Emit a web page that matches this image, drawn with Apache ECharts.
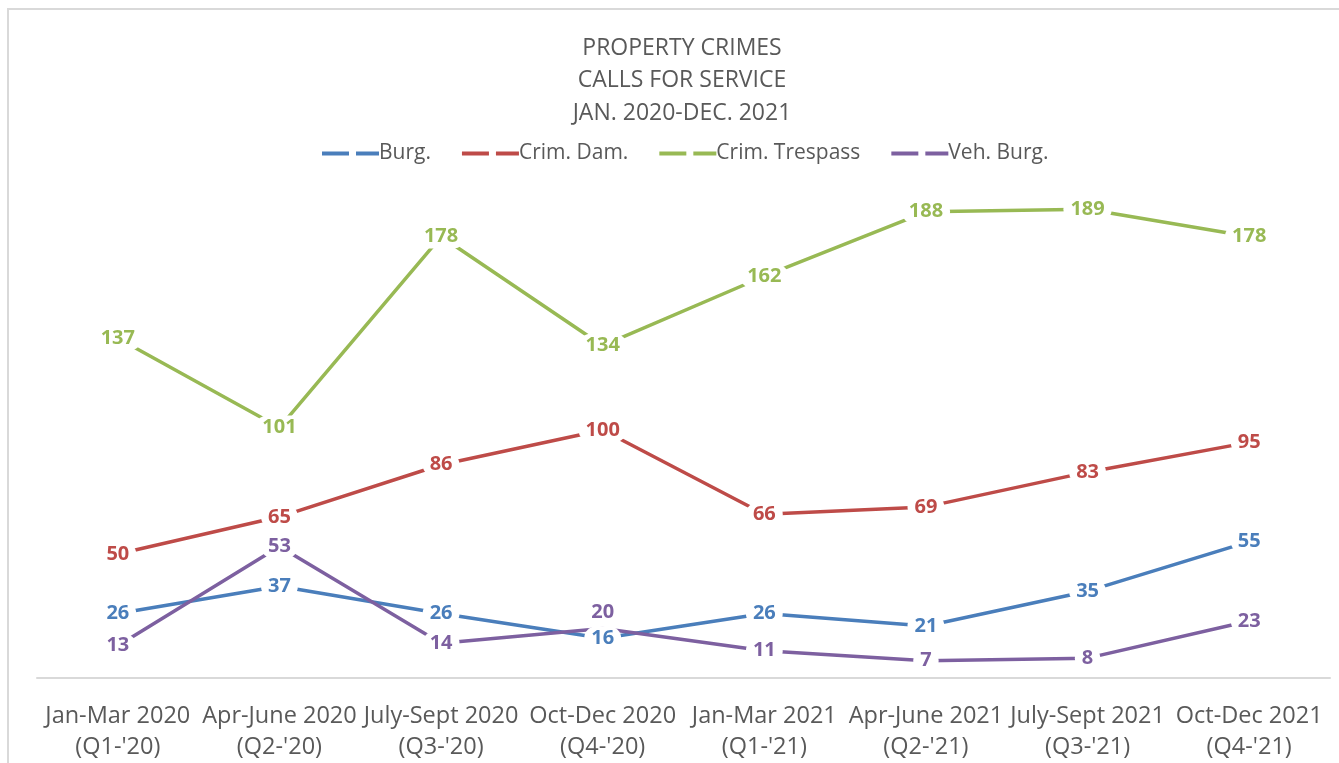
<!DOCTYPE html>
<html>
<head>
<meta charset="utf-8">
<script src="https://cdn.jsdelivr.net/npm/echarts@6/dist/echarts.min.js"></script>
<style>
  html, body { margin: 0; padding: 0; background: #fff; overflow: hidden; width: 1339px; height: 763px; }
  #frame { position: absolute; left: 7px; top: 8px; width: 1340px; height: 800px; border: 2px solid #d9d9d9; box-sizing: border-box; }
  #chart { position: absolute; left: 0; top: 0; width: 1339px; height: 763px; }
</style>
</head>
<body>
<div id="frame"></div>
<div id="chart"></div>
<script>
const categories = [
  "Jan-Mar 2020\n(Q1-'20)", "Apr-June 2020\n(Q2-'20)", "July-Sept 2020\n(Q3-'20)", "Oct-Dec 2020\n(Q4-'20)",
  "Jan-Mar 2021\n(Q1-'21)", "Apr-June 2021\n(Q2-'21)", "July-Sept 2021\n(Q3-'21)", "Oct-Dec 2021\n(Q4-'21)"
];
const burg = [26, 37, 26, 16, 26, 21, 35, 55];
const crimDam = [50, 65, 86, 100, 66, 69, 83, 95];
const crimTrespass = [137, 101, 178, 134, 162, 188, 189, 178];
const vehBurg = [13, 53, 14, 20, 11, 7, 8, 23];
const seriesNames = ["Burg.", "Crim. Dam.", "Crim. Trespass", "Veh. Burg."];
const colors = ["#4a7ebb", "#be4b48", "#98b954", "#7d60a0"];
const titleText = "PROPERTY CRIMES\nCALLS FOR SERVICE\nJAN. 2020-DEC. 2021";

const font = "'Open Sans', 'Noto Sans', sans-serif";
const dashIcon = 'path://M0,0H27V4H0Z M34,0H57V4H34Z';
const chart = echarts.init(document.getElementById('chart'));

function mk(name, data, color, layout) {
  return {
    name: name, type: 'line', data: data,
    symbol: 'circle', symbolSize: 2, showSymbol: true,
    itemStyle: { color: 'rgba(255,255,255,0)' },
    lineStyle: { width: 3.5, color: color },
    label: {
      show: true, position: 'inside', color: color,
      fontFamily: font, fontWeight: 'bold', fontSize: 20,
      backgroundColor: '#fff', padding: [2, 7], borderRadius: 12
    },
    labelLayout: layout || { hideOverlap: false },
    emphasis: { disabled: true },
    z: 2
  };
}

// the Oct-Dec 2020 Veh. Burg. label sits above its point in the reference
const vehLayout = function (p) {
  return p.dataIndex === 3 ? { dy: -16, hideOverlap: false } : { hideOverlap: false };
};

chart.setOption({
  animation: false,
  backgroundColor: 'transparent',
  title: {
    text: titleText, left: 677, textAlign: 'center', top: 27,
    textStyle: { fontFamily: font, fontSize: 23, fontWeight: 'normal', color: '#595959', lineHeight: 32.5 }
  },
  legend: {
    top: 138, left: 317, itemWidth: 57, itemHeight: 4, itemGap: 31,
    textStyle: { fontFamily: font, fontSize: 21, color: '#595959', padding: [0, 0, 0, -5] },
    data: seriesNames.map((n, i) => ({ name: n, icon: dashIcon, itemStyle: { color: colors[i], borderWidth: 0 } }))
  },
  grid: { left: 37, right: 9, top: 182, bottom: 80, containLabel: false },
  xAxis: {
    type: 'category', data: categories, boundaryGap: true,
    axisLine: { show: true, lineStyle: { color: '#d9d9d9', width: 2 } },
    axisTick: { show: false },
    axisLabel: { interval: 0, fontFamily: font, fontSize: 23.5, color: '#595959', lineHeight: 31, margin: 23 }
  },
  yAxis: {
    type: 'value', min: 0, max: 200, show: false, splitLine: { show: false }
  },
  series: [
    mk(seriesNames[0], burg, colors[0]),
    mk(seriesNames[1], crimDam, colors[1]),
    mk(seriesNames[2], crimTrespass, colors[2]),
    mk(seriesNames[3], vehBurg, colors[3], vehLayout)
  ]
});
</script>
</body>
</html>
